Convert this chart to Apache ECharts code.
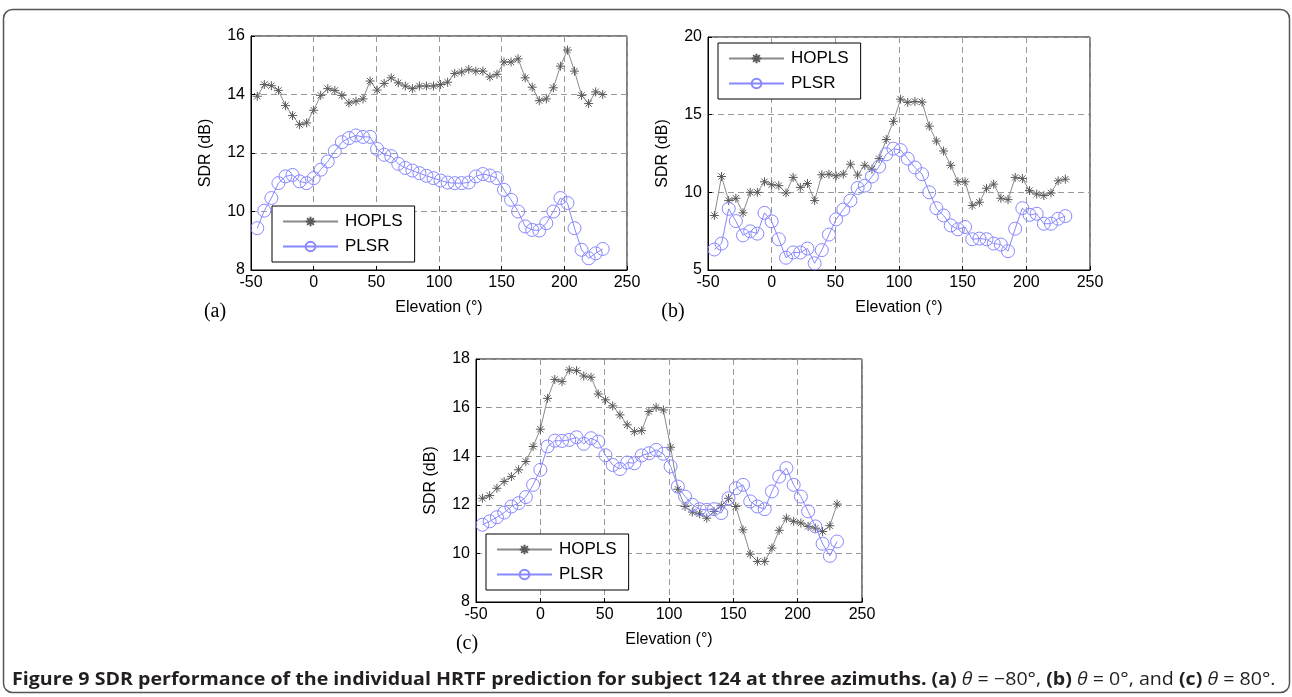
<!DOCTYPE html>
<html>
<head>
<meta charset="utf-8">
<script src="https://cdn.jsdelivr.net/npm/echarts@6/dist/echarts.min.js"></script>
<style>
html,body{margin:0;padding:0;background:#fff;}
#chart{width:1292px;height:697px;}
</style>
</head>
<body>
<div id="chart"></div>
<script>
// Elevation angles (degrees)
const elevation = [-45, -39.375, -33.75, -28.125, -22.5, -16.875, -11.25, -5.625, 0, 5.625,
  11.25, 16.875, 22.5, 28.125, 33.75, 39.375, 45, 50.625, 56.25, 61.875,
  67.5, 73.125, 78.75, 84.375, 90, 95.625, 101.25, 106.875, 112.5, 118.125,
  123.75, 129.375, 135, 140.625, 146.25, 151.875, 157.5, 163.125, 168.75, 174.375,
  180, 185.625, 191.25, 196.875, 202.5, 208.125, 213.75, 219.375, 225, 230.625];

// (a) theta = -80
const hoplsA = [13.94, 14.34, 14.30, 14.14, 13.62, 13.28, 12.97, 13.03, 13.46, 13.97,
  14.20, 14.14, 13.97, 13.71, 13.77, 13.85, 14.46, 14.15, 14.38, 14.57,
  14.40, 14.29, 14.20, 14.29, 14.29, 14.29, 14.34, 14.42, 14.72, 14.77,
  14.86, 14.80, 14.80, 14.60, 14.69, 15.11, 15.11, 15.22, 14.57, 14.25,
  13.79, 13.85, 14.23, 14.97, 15.52, 14.80, 13.97, 13.69, 14.09, 14.00];
const plsrA = [9.43, 10.03, 10.46, 10.97, 11.20, 11.25, 11.03, 10.97, 11.14, 11.43,
  11.71, 12.06, 12.37, 12.51, 12.60, 12.55, 12.55, 12.14, 11.94, 11.89,
  11.63, 11.49, 11.40, 11.31, 11.22, 11.14, 11.06, 10.99, 10.97, 10.97,
  10.99, 11.20, 11.28, 11.23, 11.14, 10.74, 10.40, 10.00, 9.49, 9.37,
  9.35, 9.60, 10.00, 10.46, 10.29, 9.43, 8.69, 8.40, 8.57, 8.72];

// (b) theta = 0
const hoplsB = [8.51, 11.02, 9.47, 9.62, 8.68, 10.00, 10.00, 10.68, 10.49, 10.43,
  9.96, 10.96, 10.32, 10.57, 9.47, 11.13, 11.17, 11.06, 11.17, 11.81,
  11.11, 11.74, 11.49, 12.17, 13.40, 14.57, 16.00, 15.79, 15.85, 15.81,
  14.26, 13.30, 12.66, 11.74, 10.68, 10.68, 9.15, 9.36, 10.26, 10.53,
  9.62, 9.53, 10.96, 10.89, 10.11, 9.89, 9.79, 9.96, 10.74, 10.85];
const plsrB = [6.32, 6.70, 8.94, 8.15, 7.23, 7.49, 7.34, 8.68, 8.13, 6.98,
  5.79, 6.13, 6.13, 6.38, 5.43, 6.28, 7.28, 8.26, 8.89, 9.47,
  10.28, 10.43, 11.02, 11.66, 12.45, 12.81, 12.72, 12.17, 11.60, 11.17,
  10.00, 8.98, 8.51, 7.87, 7.62, 7.77, 6.98, 7.02, 6.98, 6.70,
  6.64, 6.21, 7.66, 8.98, 8.55, 8.62, 7.98, 7.98, 8.30, 8.47];

// (c) theta = 80
const hoplsC = [12.27, 12.38, 12.68, 12.96, 13.16, 13.44, 13.78, 14.40, 15.11, 16.38,
  17.16, 17.07, 17.55, 17.52, 17.30, 17.25, 16.56, 16.32, 16.07, 15.70,
  15.29, 15.01, 15.05, 15.84, 16.01, 15.90, 14.37, 12.64, 11.93, 11.70,
  11.63, 11.45, 11.73, 11.96, 12.27, 11.93, 10.97, 9.97, 9.67, 9.67,
  10.22, 10.95, 11.45, 11.32, 11.25, 11.11, 11.04, 10.90, 11.14, 12.03];
const plsrC = [11.18, 11.32, 11.49, 11.68, 11.93, 12.07, 12.32, 12.82, 13.44, 14.40,
  14.64, 14.63, 14.67, 14.78, 14.51, 14.74, 14.60, 14.04, 13.64, 13.47,
  13.74, 13.71, 14.03, 14.12, 14.26, 14.10, 13.58, 12.75, 12.34, 12.00,
  11.82, 11.79, 11.82, 11.66, 12.27, 12.68, 12.82, 12.14, 11.93, 11.82,
  12.55, 13.16, 13.51, 12.82, 12.34, 11.73, 11.11, 10.40, 9.90, 10.49];

const xTicks = {min: -50, max: 250, interval: 50};
const yTicksA = {min: 8, max: 16, interval: 2};
const yTicksB = {min: 5, max: 20, interval: 5};
const yTicksC = {min: 8, max: 18, interval: 2};
const seriesNames = ['HOPLS', 'PLSR'];
const xName = 'Elevation (°)';
const yName = 'SDR (dB)';

const ASTER = 'path://M0 -10 L0 10 M-10 0 L10 0 M-7 -7 L7 7 M-7 7 L7 -7';
const FONT = 'Liberation Sans, Arial, sans-serif';

function pairs(ys) { return elevation.map((x, i) => [x, ys[i]]); }

const grids = [
  {left: 251, top: 36, width: 376, height: 234},
  {left: 708, top: 37, width: 382, height: 233},
  {left: 476, top: 359, width: 386, height: 243}
].map(g => Object.assign({show: true, borderColor: '#000', borderWidth: 1, backgroundColor: '#fff'}, g));

function xAxis(i) {
  return Object.assign({
    type: 'value', gridIndex: i,
    name: xName, nameLocation: 'middle', nameGap: 30,
    nameTextStyle: {fontFamily: FONT, fontSize: 16, color: '#000'},
    axisLine: {show: true, onZero: false, lineStyle: {color: '#000', width: 1}},
    axisTick: {show: true, inside: true, length: 4, lineStyle: {color: '#000'}},
    axisLabel: {fontFamily: FONT, fontSize: 16, color: '#000', margin: 5},
    splitLine: {show: true, lineStyle: {color: '#999', type: [6, 4], width: 1}}
  }, xTicks);
}
function yAxis(i, t) {
  return Object.assign({
    type: 'value', gridIndex: i,
    name: yName, nameLocation: 'middle', nameGap: 37,
    nameTextStyle: {fontFamily: FONT, fontSize: 16, color: '#000'},
    axisLine: {show: true, onZero: false, lineStyle: {color: '#000', width: 1}},
    axisTick: {show: true, inside: true, length: 4, lineStyle: {color: '#000'}},
    axisLabel: {fontFamily: FONT, fontSize: 16, color: '#000', margin: 6},
    splitLine: {show: true, lineStyle: {color: '#999', type: [6, 4], width: 1}}
  }, t);
}

function hoplsSeries(i, ys) {
  return {
    name: 'HOPLS', type: 'line', xAxisIndex: i, yAxisIndex: i,
    data: pairs(ys), symbol: ASTER, symbolSize: 9,
    lineStyle: {color: '#8a8a8a', width: 1},
    itemStyle: {color: 'rgba(0,0,0,0)', borderColor: '#5a5a5a', borderWidth: 1},
    emphasis: {disabled: true}, animation: false, z: 3
  };
}
function plsrSeries(i, ys) {
  return {
    name: 'PLSR', type: 'line', xAxisIndex: i, yAxisIndex: i,
    data: pairs(ys), symbol: 'circle', symbolSize: 13,
    lineStyle: {color: '#8888ff', width: 1},
    itemStyle: {color: 'rgba(0,0,0,0)', borderColor: '#8888ff', borderWidth: 1},
    emphasis: {disabled: true}, animation: false, z: 4
  };
}

function legend(left, top) {
  return {
    data: seriesNames, orient: 'vertical', left: left, top: top,
    itemWidth: 55, itemHeight: 12, itemGap: 8,
    padding: [7, 12, 7, 10],
    backgroundColor: '#fff', borderColor: '#000', borderWidth: 1,
    selectedMode: false,
    textStyle: {fontFamily: FONT, fontSize: 17, color: '#000', padding: [0, 0, 0, 2]}
  };
}

const panelLabelStyle = {fontFamily: 'Liberation Serif, Times New Roman, serif', fontSize: 20, fill: '#000'};
const CAP = 'Open Sans, sans-serif';

const option = {
  backgroundColor: '#fff',
  animation: false,
  grid: grids,
  xAxis: [xAxis(0), xAxis(1), xAxis(2)],
  yAxis: [yAxis(0, yTicksA), yAxis(1, yTicksB), yAxis(2, yTicksC)],
  legend: [legend(272, 206), legend(718, 43), legend(486, 534)],
  series: [
    hoplsSeries(0, hoplsA), plsrSeries(0, plsrA),
    hoplsSeries(1, hoplsB), plsrSeries(1, plsrB),
    hoplsSeries(2, hoplsC), plsrSeries(2, plsrC)
  ],
  graphic: [
    {type: 'rect', shape: {x: 3.5, y: 9.5, width: 1286, height: 683, r: 9},
     style: {fill: 'none', stroke: '#555', lineWidth: 1.5}, z: -10},
    {type: 'text', x: 215, y: 312, style: Object.assign({text: '(a)', align: 'center', verticalAlign: 'middle'}, panelLabelStyle)},
    {type: 'text', x: 673, y: 312, style: Object.assign({text: '(b)', align: 'center', verticalAlign: 'middle'}, panelLabelStyle)},
    {type: 'text', x: 467, y: 644, style: Object.assign({text: '(c)', align: 'center', verticalAlign: 'middle'}, panelLabelStyle)},
    {type: 'text', x: 12, y: 680, scaleX: 1.09,
     style: {
       text: '{b|Figure 9 SDR performance of the individual HRTF prediction for subject 124 at three azimuths. (a)} {i|θ}{n| = −80°, }{b|(b)} {i|θ}{n| = 0°, and }{b|(c)} {i|θ}{n| = 80°.}',
       verticalAlign: 'middle', align: 'left',
       fontFamily: CAP, fontSize: 18, fill: '#231f20',
       rich: {
         b: {fontFamily: CAP, fontSize: 18, fontWeight: 'bold', fill: '#231f20'},
         n: {fontFamily: CAP, fontSize: 18, fontWeight: 'normal', fill: '#231f20'},
         i: {fontFamily: CAP, fontSize: 18, fontStyle: 'italic', fill: '#231f20'}
       }
     }}
  ]
};

const chart = echarts.init(document.getElementById('chart'), null, {renderer: 'canvas'});
chart.setOption(option);
</script>
</body>
</html>
